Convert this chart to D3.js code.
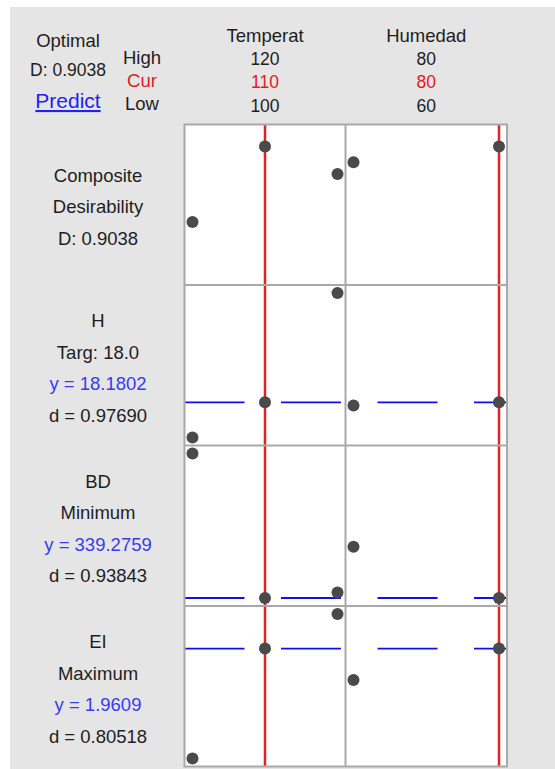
<!DOCTYPE html>
<html>
<head>
<meta charset="utf-8">
<script src="https://cdn.jsdelivr.net/npm/d3@7"></script>
<style>
  body { margin: 0; background: #fff; }
  svg text { font-family: "Liberation Sans", Arial, sans-serif; }
</style>
</head>
<body>
<svg id="chart"></svg>
<script>
const width = 555;
const height = 769;

// factors and their settings
const factors = ["Temperat", "Humedad"];
const highs = [120, 80];
const curs = [110, 80];
const lows = [100, 60];
const tempLevels = [100, 110, 120];
const humLevels = [60, 80];

// responses (rows)
const respNames = ["Composite", "H", "BD", "EI"];
const respLabels = [
    ["Composite", "Desirability", "D: 0.9038"],
    ["H", "Targ: 18.0", "y = 18.1802", "d = 0.97690"],
    ["BD", "Minimum", "y = 339.2759", "d = 0.93843"],
    ["EI", "Maximum", "y = 1.9609", "d = 0.80518"]
];
const respCurrent = [null, 18.1802, 339.2759, 1.9609];

// predicted values at each factor level (other factor held at Cur)
const compositeTemp = [0.38, 0.9038, 0.713];
const compositeHum = [0.794, 0.9038];
const hTemp = [16.95, 18.1802, 22.0];
const hHum = [18.07, 18.1802];
const bdTemp = [420, 339.2759, 342.3];
const bdHum = [367.9, 339.2759];
const eiTemp = [1.2, 1.9609, 2.2];
const eiHum = [1.744, 1.9609];

const tempValues = [compositeTemp, hTemp, bdTemp, eiTemp];
const humValues = [compositeHum, hHum, bdHum, eiHum];

const left = 184.5, mid = 345.5, right = 507;
const plotTop = 124.5, rowH = 160.5, pad = 8;

const svg = d3.select("#chart").attr("width", width).attr("height", height);

svg.append("rect").attr("x", 10).attr("y", 7)
    .attr("width", width - 10).attr("height", height - 7)
    .attr("fill", "#e5e5e5");

const xScales = [
    d3.scaleLinear().domain([lows[0], highs[0]]).range([left + pad, mid - pad]),
    d3.scaleLinear().domain([lows[1], highs[1]]).range([mid + pad, right - pad])
];
const levels = [tempLevels, humLevels];

function rowScale(r) {
    const y0 = plotTop + r * rowH;
    const allVals = tempValues[r].concat(humValues[r]);
    return d3.scaleLinear()
        .domain(r === 0 ? [0, 1] : d3.extent(allVals))
        .range([y0 + rowH - pad, y0 + pad]);
}

// header
const hdr = svg.append("g").attr("font-size", 18.5).attr("fill", "#1e1e1e");
hdr.append("text").attr("x", 68).attr("y", 47).attr("text-anchor", "middle").text("Optimal");
hdr.append("text").attr("x", 68).attr("y", 76).attr("text-anchor", "middle").attr("font-size", 17.5).text("D: 0.9038");
hdr.append("text").attr("x", 68).attr("y", 108).attr("text-anchor", "middle")
    .attr("font-size", 21).attr("fill", "#2222ee")
    .attr("text-decoration", "underline").text("Predict");
hdr.append("text").attr("x", 142).attr("y", 64).attr("text-anchor", "middle").text("High");
hdr.append("text").attr("x", 142).attr("y", 87).attr("text-anchor", "middle").attr("fill", "#e02020").text("Cur");
hdr.append("text").attr("x", 142).attr("y", 110).attr("text-anchor", "middle").text("Low");

factors.forEach((f, i) => {
    const cx = (xScales[i].range()[0] + xScales[i].range()[1]) / 2;
    hdr.append("text").attr("x", cx).attr("y", 42).attr("text-anchor", "middle").text(f);
    hdr.append("text").attr("x", cx).attr("y", 65).attr("text-anchor", "middle").attr("font-size", 17.5).text(highs[i]);
    hdr.append("text").attr("x", cx).attr("y", 88).attr("text-anchor", "middle").attr("font-size", 17.5).attr("fill", "#e02020").text(curs[i]);
    hdr.append("text").attr("x", cx).attr("y", 112).attr("text-anchor", "middle").attr("font-size", 17.5).text(lows[i]);
});

// rows: white panels, labels, current response line
respNames.forEach((name, r) => {
    const y0 = plotTop + r * rowH;
    const yScale = rowScale(r);

    svg.append("rect").attr("x", left).attr("y", y0)
        .attr("width", right - left).attr("height", rowH).attr("fill", "#fff");

    const lines = respLabels[r];
    const firstY = r === 0 ? y0 + 57 : y0 + 42;
    svg.append("g").selectAll("text").data(lines).enter()
        .append("text")
        .attr("x", 98)
        .attr("y", (d, i) => firstY + i * 31.5)
        .attr("text-anchor", "middle")
        .attr("font-size", 18.5)
        .attr("fill", d => d.startsWith("y =") ? "#3a3af0" : "#1e1e1e")
        .text(d => d);

    if (respCurrent[r] !== null) {
        svg.append("line")
            .attr("x1", left).attr("x2", right)
            .attr("y1", yScale(respCurrent[r])).attr("y2", yScale(respCurrent[r]))
            .attr("stroke", "#1010e8").attr("stroke-width", 1.8)
            .attr("stroke-dasharray", "60,36.5");
    }
});

// red cur lines
factors.forEach((f, i) => {
    svg.append("line")
        .attr("x1", xScales[i](curs[i])).attr("x2", xScales[i](curs[i]))
        .attr("y1", plotTop).attr("y2", plotTop + 4 * rowH)
        .attr("stroke", "#e02424").attr("stroke-width", 2.5);
});

// borders
const grid = svg.append("g").attr("stroke", "#a9a9a9").attr("stroke-width", 2).attr("fill", "none");
grid.append("rect").attr("x", left).attr("y", plotTop).attr("width", right - left).attr("height", 4 * rowH);
grid.append("line").attr("x1", mid).attr("x2", mid).attr("y1", plotTop).attr("y2", plotTop + 4 * rowH);
d3.range(1, 4).forEach(i => {
    grid.append("line").attr("x1", left).attr("x2", right)
        .attr("y1", plotTop + i * rowH).attr("y2", plotTop + i * rowH);
});

// points
respNames.forEach((name, r) => {
    const yScale = rowScale(r);
    [tempValues[r], humValues[r]].forEach((vals, f) => {
        svg.append("g").selectAll("circle").data(vals).enter()
            .append("circle")
            .attr("cx", (d, i) => xScales[f](levels[f][i]))
            .attr("cy", d => yScale(d))
            .attr("r", 6)
            .attr("fill", "#4a4a4a");
    });
});
</script>
</body>
</html>
